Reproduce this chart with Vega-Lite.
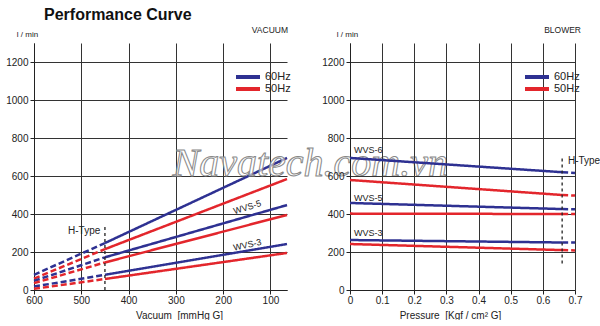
{
  "$schema": "https://vega.github.io/schema/vega-lite/v6.json",
  "padding": {"left": 5, "top": 6, "right": 0, "bottom": 0},
  "title": {"text": "Performance Curve", "anchor": "start", "frame": "group", "dx": 10, "fontSize": 16, "fontWeight": "bold", "font": "Liberation Sans", "color": "#111", "offset": 3},
  "config": {
    "view": {"stroke": null},
    "font": "Liberation Sans",
    "axis": {"domainColor": "#222", "tickColor": "#222", "gridColor": "#333", "gridWidth": 1, "gridOpacity": 1, "labelFont": "Liberation Sans", "labelFontSize": 10, "labelColor": "#222", "titleFont": "Liberation Sans", "titleFontSize": 10, "titleFontWeight": "normal", "titleColor": "#222", "tickSize": 4, "labelOverlap": false, "labelFlush": false}
  },
  "spacing": 63,
  "bounds": "flush",
  "resolve": {"legend": {"color": "independent"}},
  "datasets": {
    "vac": [
      {"model": "WVS-6", "freq": "60Hz", "seg": "dashed", "p": 600, "q": 80},
      {"model": "WVS-6", "freq": "60Hz", "seg": "dashed", "p": 450, "q": 247},
      {"model": "WVS-6", "freq": "60Hz", "seg": "solid", "p": 450, "q": 247},
      {"model": "WVS-6", "freq": "60Hz", "seg": "solid", "p": 65, "q": 695},
      {"model": "WVS-6", "freq": "50Hz", "seg": "dashed", "p": 600, "q": 60},
      {"model": "WVS-6", "freq": "50Hz", "seg": "dashed", "p": 450, "q": 215},
      {"model": "WVS-6", "freq": "50Hz", "seg": "solid", "p": 450, "q": 215},
      {"model": "WVS-6", "freq": "50Hz", "seg": "solid", "p": 65, "q": 584},
      {"model": "WVS-5", "freq": "60Hz", "seg": "dashed", "p": 600, "q": 48},
      {"model": "WVS-5", "freq": "60Hz", "seg": "dashed", "p": 450, "q": 172},
      {"model": "WVS-5", "freq": "60Hz", "seg": "solid", "p": 450, "q": 172},
      {"model": "WVS-5", "freq": "60Hz", "seg": "solid", "p": 65, "q": 447},
      {"model": "WVS-5", "freq": "50Hz", "seg": "dashed", "p": 600, "q": 36},
      {"model": "WVS-5", "freq": "50Hz", "seg": "dashed", "p": 450, "q": 145},
      {"model": "WVS-5", "freq": "50Hz", "seg": "solid", "p": 450, "q": 145},
      {"model": "WVS-5", "freq": "50Hz", "seg": "solid", "p": 65, "q": 395},
      {"model": "WVS-3", "freq": "60Hz", "seg": "dashed", "p": 600, "q": 18},
      {"model": "WVS-3", "freq": "60Hz", "seg": "dashed", "p": 450, "q": 80},
      {"model": "WVS-3", "freq": "60Hz", "seg": "solid", "p": 450, "q": 80},
      {"model": "WVS-3", "freq": "60Hz", "seg": "solid", "p": 65, "q": 242},
      {"model": "WVS-3", "freq": "50Hz", "seg": "dashed", "p": 600, "q": 6},
      {"model": "WVS-3", "freq": "50Hz", "seg": "dashed", "p": 450, "q": 58},
      {"model": "WVS-3", "freq": "50Hz", "seg": "solid", "p": 450, "q": 58},
      {"model": "WVS-3", "freq": "50Hz", "seg": "solid", "p": 65, "q": 195}
    ],
    "blow": [
      {"model": "WVS-6", "freq": "60Hz", "seg": "solid", "p": 0, "q": 695},
      {"model": "WVS-6", "freq": "60Hz", "seg": "solid", "p": 0.66, "q": 620},
      {"model": "WVS-6", "freq": "60Hz", "seg": "dashed", "p": 0.66, "q": 620},
      {"model": "WVS-6", "freq": "60Hz", "seg": "dashed", "p": 0.7, "q": 616},
      {"model": "WVS-6", "freq": "50Hz", "seg": "solid", "p": 0, "q": 579},
      {"model": "WVS-6", "freq": "50Hz", "seg": "solid", "p": 0.66, "q": 500},
      {"model": "WVS-6", "freq": "50Hz", "seg": "dashed", "p": 0.66, "q": 500},
      {"model": "WVS-6", "freq": "50Hz", "seg": "dashed", "p": 0.7, "q": 497},
      {"model": "WVS-5", "freq": "60Hz", "seg": "solid", "p": 0, "q": 458},
      {"model": "WVS-5", "freq": "60Hz", "seg": "solid", "p": 0.66, "q": 426},
      {"model": "WVS-5", "freq": "60Hz", "seg": "dashed", "p": 0.66, "q": 426},
      {"model": "WVS-5", "freq": "60Hz", "seg": "dashed", "p": 0.7, "q": 425},
      {"model": "WVS-5", "freq": "50Hz", "seg": "solid", "p": 0, "q": 402},
      {"model": "WVS-5", "freq": "50Hz", "seg": "solid", "p": 0.66, "q": 400},
      {"model": "WVS-5", "freq": "50Hz", "seg": "dashed", "p": 0.66, "q": 400},
      {"model": "WVS-5", "freq": "50Hz", "seg": "dashed", "p": 0.7, "q": 400},
      {"model": "WVS-3", "freq": "60Hz", "seg": "solid", "p": 0, "q": 263},
      {"model": "WVS-3", "freq": "60Hz", "seg": "solid", "p": 0.66, "q": 250},
      {"model": "WVS-3", "freq": "60Hz", "seg": "dashed", "p": 0.66, "q": 250},
      {"model": "WVS-3", "freq": "60Hz", "seg": "dashed", "p": 0.7, "q": 250},
      {"model": "WVS-3", "freq": "50Hz", "seg": "solid", "p": 0, "q": 242},
      {"model": "WVS-3", "freq": "50Hz", "seg": "solid", "p": 0.66, "q": 210},
      {"model": "WVS-3", "freq": "50Hz", "seg": "dashed", "p": 0.66, "q": 210},
      {"model": "WVS-3", "freq": "50Hz", "seg": "dashed", "p": 0.7, "q": 208}
    ]
  },
  "hconcat": [
    {
      "width": 253,
      "height": 247,
      "title": {"text": "VACUUM", "anchor": "end", "frame": "group", "fontSize": 8.5, "fontWeight": "normal", "font": "Liberation Sans", "color": "#222", "offset": -4, "dx": 1},
      "layer": [
        {
          "data": {"name": "vac"},
          "mark": {"type": "line", "strokeWidth": 2.5},
          "encoding": {
            "x": {"field": "p", "type": "quantitative", "scale": {"domain": [65, 600], "reverse": true, "nice": false, "zero": false},
              "axis": {"values": [600, 500, 400, 300, 200, 100], "tickCount": 12, "grid": true, "title": "Vacuum \u00a0[mmHg G]", "labelPadding": 1, "titlePadding": 5, "titleX": 145, "titleAlign": "center", "labelOverlap": false}},
            "y": {"field": "q", "type": "quantitative", "scale": {"domain": [0, 1300], "nice": false},
              "axis": {"values": [0, 200, 400, 600, 800, 1000, 1200], "tickCount": 14, "format": "d", "grid": true, "title": "l / min", "titleAngle": 0, "titleX": -7, "titleY": -9, "titleAlign": "center", "titleBaseline": "middle", "titleFontSize": 8, "labelPadding": 2, "labelOverlap": false}},
            "color": {"field": "freq", "type": "nominal", "scale": {"domain": ["60Hz", "50Hz"], "range": ["#2e3192", "#e3262c"]},
              "legend": {"orient": "none", "legendX": 200, "legendY": 28, "title": null, "symbolType": "stroke", "symbolSize": 576, "symbolStrokeWidth": 4, "labelFontSize": 11, "labelColor": "#222", "clipHeight": 12, "labelOffset": 3, "rowPadding": 0}},
            "strokeDash": {"field": "seg", "type": "nominal", "scale": {"domain": ["solid", "dashed"], "range": [[1, 0], [6, 3]]}, "legend": null},
            "detail": {"field": "model"}
          }
        },
        {
          "data": {"values": [{"p": 450, "q": 0, "q2": 340}]},
          "mark": {"type": "rule", "color": "#222", "strokeWidth": 1.3, "strokeDash": [3, 3]},
          "encoding": {"x": {"field": "p", "type": "quantitative"}, "y": {"field": "q", "type": "quantitative"}, "y2": {"field": "q2"}}
        },
        {
          "data": {"values": [{"p": 494, "q": 310, "t": "H-Type"}]},
          "mark": {"type": "text", "fontSize": 10, "color": "#222", "align": "center", "baseline": "middle"},
          "encoding": {"x": {"field": "p", "type": "quantitative"}, "y": {"field": "q", "type": "quantitative"}, "text": {"field": "t"}}
        },
        {
          "data": {"values": [{"p": 149, "q": 436, "t": "WVS-5"}]},
          "mark": {"type": "text", "fontSize": 9, "color": "#222", "align": "center", "baseline": "middle", "angle": -17},
          "encoding": {"x": {"field": "p", "type": "quantitative"}, "y": {"field": "q", "type": "quantitative"}, "text": {"field": "t"}}
        },
        {
          "data": {"values": [{"p": 149, "q": 238, "t": "WVS-3"}]},
          "mark": {"type": "text", "fontSize": 9, "color": "#222", "align": "center", "baseline": "middle", "angle": -12},
          "encoding": {"x": {"field": "p", "type": "quantitative"}, "y": {"field": "q", "type": "quantitative"}, "text": {"field": "t"}}
        },
        {
          "data": {"values": [{"p": 307, "q": 600, "t": "Navatech.com.vn"}]},
          "mark": {"type": "text", "font": "Liberation Serif", "fontStyle": "italic", "fontSize": 40, "align": "left", "baseline": "alphabetic", "fill": "#ffffff", "fillOpacity": 0.6, "stroke": "#888", "strokeWidth": 1},
          "encoding": {"x": {"field": "p", "type": "quantitative"}, "y": {"field": "q", "type": "quantitative"}, "text": {"field": "t"}}
        }
      ]
    },
    {
      "width": 225,
      "height": 247,
      "title": {"text": "BLOWER", "anchor": "end", "frame": "group", "fontSize": 8.5, "fontWeight": "normal", "font": "Liberation Sans", "color": "#222", "offset": -4, "dx": 6},
      "layer": [
        {
          "data": {"name": "blow"},
          "mark": {"type": "line", "strokeWidth": 2.5},
          "encoding": {
            "x": {"field": "p", "type": "quantitative", "scale": {"domain": [0, 0.7], "nice": false},
              "axis": {"values": [0, 0.1, 0.2, 0.3, 0.4, 0.5, 0.6, 0.7], "tickCount": 16, "format": "~g", "grid": true, "title": "Pressure \u00a0[Kgf / cm² G]", "labelPadding": 1, "titlePadding": 5, "titleX": 100, "titleAlign": "center", "labelOverlap": false, "labelSeparation": 0}},
            "y": {"field": "q", "type": "quantitative", "scale": {"domain": [0, 1300], "nice": false},
              "axis": {"values": [0, 200, 400, 600, 800, 1000, 1200], "tickCount": 14, "format": "d", "grid": true, "title": "l / min", "titleAngle": 0, "titleX": -3, "titleY": -9, "titleAlign": "center", "titleBaseline": "middle", "titleFontSize": 8, "labelPadding": 2, "labelOverlap": false}},
            "color": {"field": "freq", "type": "nominal", "scale": {"domain": ["60Hz", "50Hz"], "range": ["#2e3192", "#e3262c"]},
              "legend": {"orient": "none", "legendX": 173, "legendY": 28, "title": null, "symbolType": "stroke", "symbolSize": 576, "symbolStrokeWidth": 4, "labelFontSize": 11, "labelColor": "#222", "clipHeight": 12, "labelOffset": 3, "rowPadding": 0}},
            "strokeDash": {"field": "seg", "type": "nominal", "scale": {"domain": ["solid", "dashed"], "range": [[1, 0], [6, 3]]}, "legend": null},
            "detail": {"field": "model"}
          }
        },
        {
          "data": {"values": [{"p": 0.66, "q": 140, "q2": 705}]},
          "mark": {"type": "rule", "color": "#222", "strokeWidth": 1.3, "strokeDash": [3, 3]},
          "encoding": {"x": {"field": "p", "type": "quantitative"}, "y": {"field": "q", "type": "quantitative"}, "y2": {"field": "q2"}}
        },
        {
          "data": {"values": [{"p": 0.678, "q": 679, "t": "H-Type"}]},
          "mark": {"type": "text", "fontSize": 10, "color": "#222", "align": "left", "baseline": "middle"},
          "encoding": {"x": {"field": "p", "type": "quantitative"}, "y": {"field": "q", "type": "quantitative"}, "text": {"field": "t"}}
        },
        {
          "data": {"values": [{"p": 0.0125, "q": 737, "t": "WVS-6"}, {"p": 0.0125, "q": 484, "t": "WVS-5"}, {"p": 0.0125, "q": 300, "t": "WVS-3"}]},
          "mark": {"type": "text", "fontSize": 9, "color": "#222", "align": "left", "baseline": "middle"},
          "encoding": {"x": {"field": "p", "type": "quantitative"}, "y": {"field": "q", "type": "quantitative"}, "text": {"field": "t"}}
        }
      ]
    }
  ]
}
